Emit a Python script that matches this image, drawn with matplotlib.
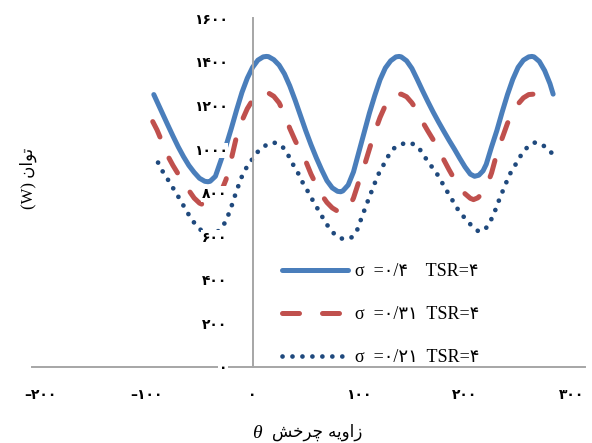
import matplotlib
matplotlib.use("Agg")
import matplotlib.pyplot as plt

# sigma = 0.4, TSR = 4
theta_a = [-93, -90, -85, -80, -75, -70, -65, -60, -55, -50, -45, -42, -40, -35, -30, -25, -20,
           -15, -10, -5, 0, 5, 10, 13, 15, 20, 25, 30, 35, 40, 45, 50, 55, 60, 65, 70, 75, 80,
           83, 85, 90, 95, 100, 105, 110, 115, 120, 125, 130, 135, 138, 140, 145, 150, 155, 160,
           165, 170, 175, 180, 185, 190, 195, 200, 205, 209, 213, 217, 220, 225, 230, 235, 240,
           245, 250, 255, 260, 263, 265, 270, 275, 280, 283]
power_a = [1250, 1218, 1165, 1112, 1060, 1010, 965, 925, 893, 866, 852, 850, 852, 875, 945, 1015,
           1095, 1180, 1260, 1325, 1375, 1408, 1423, 1425, 1424, 1410, 1385, 1345, 1290, 1225,
           1155, 1085, 1020, 960, 905, 855, 822, 806, 804, 808, 835, 895, 985, 1075, 1165, 1245,
           1318, 1372, 1405, 1423, 1425, 1423, 1405, 1370, 1320, 1268, 1218, 1170, 1125, 1082,
           1040, 1000, 958, 918, 885, 875, 880, 900, 930, 1010, 1085, 1170, 1250, 1320, 1375,
           1408, 1423, 1425, 1423, 1402, 1360, 1300, 1252]

# sigma = 0.31, TSR = 4
theta_b = [-94, -90, -85, -80, -75, -70, -65, -60, -55, -50, -45, -40, -35, -30, -25, -20, -15,
           -10, -5, 0, 5, 10, 15, 20, 25, 30, 35, 40, 45, 50, 55, 60, 65, 70, 75, 80, 85, 90, 95,
           100, 105, 110, 115, 120, 125, 130, 135, 140, 145, 150, 155, 160, 165, 170, 175, 180,
           185, 190, 195, 200, 205, 208, 212, 216, 220, 225, 230, 235, 240, 245, 250, 255, 260,
           265, 270, 277]
power_b = [1126, 1088, 1030, 970, 925, 885, 845, 810, 775, 752, 741, 745, 765, 800, 860, 955,
           1060, 1130, 1185, 1225, 1250, 1260, 1257, 1242, 1212, 1160, 1095, 1040, 990, 945, 885,
           835, 790, 755, 730, 715, 712, 725, 775, 850, 920, 1000, 1078, 1145, 1200, 1235, 1250,
           1252, 1240, 1212, 1175, 1125, 1083, 1043, 997, 951, 905, 862, 825, 795, 774, 768, 776,
           795, 825, 890, 980, 1050, 1118, 1170, 1207, 1235, 1250, 1252, 1236, 1191]

# sigma = 0.21, TSR = 4
theta_c = [-89, -85, -80, -75, -70, -65, -60, -55, -50, -45, -40, -35, -30, -25, -20, -15, -10,
           -5, 0, 5, 10, 15, 19, 23, 28, 33, 38, 43, 48, 53, 58, 63, 68, 73, 78, 83, 88, 93, 98,
           103, 108, 113, 118, 123, 128, 133, 140, 146, 152, 157, 162, 167, 172, 177, 182, 187,
           192, 197, 202, 207, 212, 215, 219, 223, 227, 232, 237, 242, 247, 252, 257, 262, 266,
           270, 275, 280, 283]
power_c = [938, 900, 862, 822, 782, 740, 698, 662, 634, 614, 607, 613, 633, 670, 735, 810, 875,
           922, 955, 988, 1010, 1024, 1030, 1027, 1012, 977, 930, 888, 838, 798, 752, 712, 668,
           632, 605, 590, 587, 594, 622, 690, 755, 818, 880, 925, 970, 1003, 1022, 1030, 1022,
           1002, 965, 929, 900, 858, 815, 775, 732, 700, 670, 645, 625, 622, 632, 660, 700, 765,
           825, 883, 924, 966, 1000, 1022, 1030, 1027, 1012, 990, 975]

series_labels = ["σ  =۰/۴    TSR=۴", "σ  =۰/۳۱  TSR=۴", "σ  =۰/۲۱  TSR=۴"]

y_ticks = [0, 200, 400, 600, 800, 1000, 1200, 1400, 1600]
y_tick_labels = ["۰", "۲۰۰", "۴۰۰", "۶۰۰", "۸۰۰", "۱۰۰۰", "۱۲۰۰", "۱۴۰۰", "۱۶۰۰"]
x_ticks = [-200, -100, 0, 100, 200, 300]
x_tick_labels = ["–۲۰۰", "–۱۰۰", "۰", "۱۰۰", "۲۰۰", "۳۰۰"]

# Persian labels in visual order, presentation forms (no shaping engine in matplotlib)
y_title = "(W) \uFEE5\uFE8D\uFEEE\uFE97"                        # توان (W)
x_title = "\uFEB6\uFEA7\uFEAE\uFB7C \uFEEA\uFBFE\uFEED\uFE8D\uFEAF"  # زاویه چرخش

mixed = ["Liberation Serif", "DejaVu Sans"]

fig = plt.figure(figsize=(5.92, 4.43), dpi=100)
ax = fig.add_axes([0.0535, 0.1716, 0.9347, 0.7871])

ax.plot(theta_a, power_a, color="#4A7EBB", lw=3.6, solid_capstyle="round",
        solid_joinstyle="round", label=series_labels[0])
ax.plot(theta_b, power_b, color="#C0504D", lw=3.6, dashes=(3.4, 4.6),
        dash_capstyle="round", label=series_labels[1])
ax.plot(theta_c, power_c, color="#1F497D", lw=3.4, dashes=(0.01, 2.1),
        dash_capstyle="round", label=series_labels[2])

ax.set_xlim(-208, 313)
ax.set_ylim(0, 1600)

for side in ["top", "right"]:
    ax.spines[side].set_visible(False)
ax.spines["left"].set_position(("data", 0))
for side in ["left", "bottom"]:
    ax.spines[side].set_color("#a6a6a6")
    ax.spines[side].set_linewidth(1.4)

ax.set_xticks(x_ticks, x_tick_labels, fontsize=10, fontweight="bold", family="DejaVu Sans")
ax.set_yticks(y_ticks, y_tick_labels, fontsize=10, fontweight="bold", family="DejaVu Sans")
ax.tick_params(axis="both", length=0)
ax.tick_params(axis="y", pad=18)
ax.tick_params(axis="x", pad=15)
ax.set_axisbelow(False)
for lab in ax.get_yticklabels():
    lab.set_bbox(dict(facecolor="white", edgecolor="none", pad=0.5))

ax.legend(loc="upper left", bbox_to_anchor=(282 / 592, 180 / 443),
          bbox_transform=fig.transFigure, frameon=False,
          prop={"family": mixed, "size": 13}, handlelength=3.65,
          handletextpad=0.4, labelspacing=1.45, borderpad=0, borderaxespad=0)

fig.text(28 / 592, 1 - 178 / 443, y_title, rotation=90, ha="center", va="center",
         family=mixed, fontsize=12)
fig.text(257 / 592, 1 - 433 / 443, "θ", ha="center", va="center",
         family="Liberation Serif", style="italic", fontsize=14)
fig.text(272 / 592, 1 - 432 / 443, x_title, ha="left", va="center",
         family="DejaVu Sans", fontsize=12)

fig.savefig("out.png", dpi=100)
